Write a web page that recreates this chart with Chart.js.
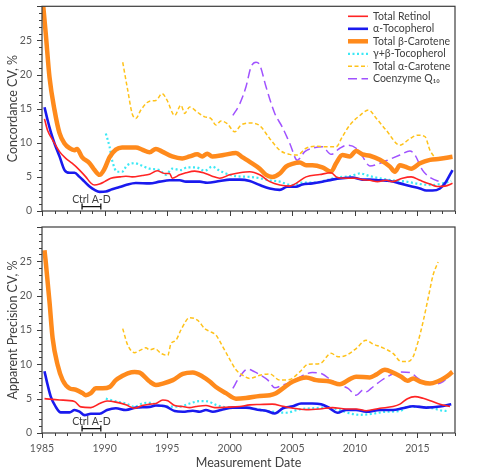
<!DOCTYPE html>
<html>
<head>
<meta charset="utf-8">
<script src="https://cdn.jsdelivr.net/npm/chart.js@4.4.1/dist/chart.umd.min.js"></script>
<style>
  html, body { margin: 0; padding: 0; background: #fff; }
  #wrap { position: relative; width: 480px; height: 473px; }
  #wrap canvas { position: absolute; left: 0; }
</style>
</head>
<body>
<div id="wrap">
  <canvas id="conc" width="480" height="218" style="top:0"></canvas>
  <canvas id="prec" width="480" height="255" style="top:218px"></canvas>
</div>
<script>
// axis ticks
const yearTicks = [1985, 1990, 1995, 2000, 2005, 2010, 2015];
const cvTicks = [0, 5, 10, 15, 20, 25, 30];
const ctrlPeriod = [1988.2, 1989.7];
const ctrlLabel = 'Ctrl A-D';

const seriesNames = ['Total Retinol', 'α-Tocopherol', 'Total β-Carotene',
    'γ+β-Tocopherol', 'Total α-Carotene', 'Coenzyme Q₁₀'];

// concordance CV, % : [year, value]
const concRetinol = [[1985.2,13.5],[1985.45,11.8],[1985.85,10.4],[1986.4,8.7],[1986.9,7.7],[1987.4,7.0],[1988.0,6.0],[1988.5,5.0],[1988.9,4.1],[1989.2,3.8],[1989.6,3.95],[1990.0,4.3],[1990.5,4.8],[1991.2,5.0],[1991.7,5.1],[1992.2,5.0],[1993.0,5.2],[1993.6,5.4],[1994.2,5.9],[1994.8,5.5],[1995.2,5.5],[1995.4,4.8],[1996.0,5.3],[1996.5,5.6],[1997.2,5.85],[1997.9,5.6],[1998.6,5.1],[1999.2,4.8],[2000.0,5.3],[2000.8,5.6],[2001.6,5.75],[2002.4,5.3],[2003.2,4.3],[2004.0,3.8],[2004.8,3.65],[2005.3,4.05],[2006.1,5.0],[2007.2,5.35],[2008.1,5.6],[2008.6,4.9],[2009.3,4.8],[2010.1,4.8],[2010.6,4.6],[2011.2,4.5],[2011.8,4.3],[2012.5,4.5],[2013.0,4.3],[2013.8,4.8],[2014.5,5.0],[2015.2,4.5],[2016.0,3.95],[2016.6,3.6],[2017.2,3.65],[2017.8,4.05]];
const concTocopherol = [[1985.2,15.2],[1985.45,13.3],[1985.7,11.6],[1986.0,9.9],[1986.4,8.0],[1986.8,6.0],[1987.2,5.6],[1987.6,5.6],[1988.0,5.0],[1988.4,4.3],[1988.8,3.6],[1989.2,3.1],[1989.6,2.8],[1990.1,2.85],[1990.6,3.2],[1991.2,3.5],[1991.7,3.8],[1992.5,4.1],[1993.6,4.05],[1994.4,4.3],[1995.2,4.5],[1996.0,4.5],[1996.5,4.3],[1997.0,4.3],[1997.6,4.3],[1998.2,4.15],[1999.2,4.4],[2000.0,4.6],[2000.8,4.6],[2001.6,4.4],[2002.4,3.8],[2003.2,3.3],[2004.0,3.1],[2004.6,3.55],[2005.3,3.55],[2005.8,3.9],[2006.6,4.05],[2007.4,4.3],[2008.2,4.6],[2009.0,4.8],[2009.8,4.9],[2010.6,4.6],[2011.2,4.6],[2012.0,4.5],[2012.8,4.4],[2013.6,4.05],[2014.4,3.65],[2015.2,3.3],[2015.7,3.0],[2016.2,3.0],[2016.8,3.3],[2017.2,4.05],[2017.8,6.0]];
const concBeta = [[1985.0,32],[1985.3,26.0],[1985.6,19.6],[1986.0,14.8],[1986.4,11.4],[1986.8,9.9],[1987.2,9.2],[1987.6,8.9],[1987.8,9.1],[1988.2,7.9],[1988.8,7.0],[1989.2,6.0],[1989.6,5.3],[1990.0,6.2],[1990.4,7.9],[1990.9,9.0],[1991.4,9.3],[1992.0,9.3],[1992.5,9.3],[1993.0,9.0],[1993.6,8.6],[1994.1,9.1],[1994.6,8.7],[1995.4,8.0],[1996.2,7.7],[1996.8,8.0],[1997.4,8.3],[1997.8,8.0],[1998.2,8.4],[1998.6,8.0],[1999.5,8.2],[2000.5,8.5],[2001.0,7.9],[2001.6,7.2],[2002.4,6.2],[2002.9,5.3],[2003.4,5.0],[2004.0,5.5],[2004.5,6.5],[2005.0,6.9],[2005.6,7.1],[2006.1,6.7],[2006.6,6.7],[2007.4,6.4],[2008.1,5.75],[2008.5,7.0],[2009.0,8.2],[2009.6,8.0],[2010.1,8.8],[2010.6,8.3],[2011.2,8.1],[2012.0,7.5],[2012.8,6.5],[2013.2,5.75],[2013.6,6.7],[2014.0,6.5],[2014.5,6.2],[2015.2,7.0],[2016.0,7.5],[2016.8,7.65],[2017.8,7.95]];
const concGammaBeta = [[1990.1,11.35],[1990.4,9.4],[1990.6,7.45],[1991.0,5.75],[1991.4,5.75],[1991.8,6.7],[1992.4,7.0],[1992.9,6.7],[1993.6,6.2],[1994.4,6.0],[1994.9,5.3],[1995.4,6.2],[1996.1,6.0],[1996.6,6.4],[1997.3,6.4],[1998.0,5.9],[1998.6,6.5],[1999.2,5.9],[1999.7,5.5],[2000.5,5.1],[2001.6,5.0],[2002.4,4.8],[2003.2,4.5],[2004.0,4.3],[2004.9,3.8],[2005.8,4.15],[2006.8,4.15],[2007.7,4.5],[2008.5,4.9],[2009.6,5.1],[2010.4,5.5],[2011.2,5.1],[2012.0,4.8],[2013.0,4.5],[2014.1,4.3],[2015.2,3.95],[2016.2,3.8],[2017.0,4.05],[2017.7,4.4]];
const concAlpha = [[1991.45,21.8],[1991.85,17.7],[1992.2,14.3],[1992.5,13.55],[1992.9,14.8],[1993.6,16.1],[1994.1,16.2],[1994.6,17.2],[1995.0,16.2],[1995.6,14.0],[1996.1,15.5],[1996.4,14.3],[1996.8,15.25],[1997.4,14.5],[1998.0,13.8],[1998.5,13.55],[1998.9,12.6],[1999.3,13.2],[1999.8,12.8],[2000.4,11.6],[2000.9,12.6],[2001.6,12.9],[2002.4,12.5],[2003.2,10.6],[2004.0,8.9],[2004.8,8.3],[2005.4,8.2],[2006.1,9.2],[2006.9,9.5],[2007.7,9.4],[2008.5,9.4],[2009.0,10.9],[2009.6,12.6],[2010.4,14.0],[2011.1,14.8],[2011.7,13.6],[2012.5,11.85],[2013.6,9.65],[2014.4,10.6],[2015.0,11.1],[2015.6,10.9],[2016.0,8.9],[2016.5,7.6]];
const concQ10 = [[2000.25,14.0],[2000.8,15.7],[2001.3,18.2],[2001.7,21.1],[2002.1,21.8],[2002.4,21.4],[2002.9,18.2],[2003.6,14.3],[2004.2,12.3],[2004.8,9.9],[2005.4,7.45],[2006.0,8.7],[2006.6,9.2],[2007.4,9.4],[2008.1,8.3],[2008.8,9.2],[2009.4,9.65],[2010.1,9.2],[2010.6,8.0],[2011.2,6.6],[2012.0,7.0],[2012.8,7.6],[2013.6,8.2],[2014.4,8.8],[2014.8,8.2],[2015.4,6.0],[2016.1,4.8],[2016.8,4.3],[2017.3,3.95]];

// apparent precision CV, % : [year, value]
const precRetinol = [[1985.2,5.0],[1986.4,4.8],[1987.6,4.6],[1988.1,3.8],[1988.9,3.7],[1989.6,4.3],[1990.2,4.65],[1990.9,4.5],[1991.7,4.1],[1992.4,3.6],[1993.0,4.0],[1993.6,4.2],[1994.1,4.3],[1994.65,4.8],[1995.05,4.7],[1995.6,4.0],[1996.25,3.85],[1996.8,3.7],[1997.3,3.85],[1998.1,4.0],[1998.8,3.7],[1999.7,3.75],[2000.8,3.85],[2001.6,4.1],[2002.4,4.15],[2003.4,4.2],[2004.25,3.9],[2005.05,3.6],[2006.1,3.4],[2007.2,3.5],[2008.2,3.7],[2009.3,3.5],[2010.1,3.5],[2010.9,3.25],[2012.0,3.6],[2013.05,3.85],[2013.6,4.2],[2014.2,5.0],[2014.8,5.3],[2015.45,5.05],[2016.1,4.65],[2016.8,4.2],[2017.6,3.85]];
const precTocopherol = [[1985.2,9.0],[1985.45,7.0],[1985.7,5.3],[1986.1,3.8],[1986.5,3.0],[1987.2,3.0],[1987.6,3.35],[1988.0,3.1],[1988.4,2.6],[1988.9,2.8],[1989.6,2.8],[1990.2,3.35],[1990.9,3.6],[1991.7,3.35],[1992.5,3.7],[1993.6,3.8],[1994.1,4.0],[1994.9,3.85],[1995.6,3.2],[1996.25,3.1],[1997.05,3.25],[1997.6,3.1],[1998.1,3.35],[1998.65,3.1],[1999.3,3.35],[2000.25,3.7],[2001.3,3.7],[2002.4,3.35],[2002.9,3.25],[2003.6,2.85],[2004.25,3.6],[2005.05,3.9],[2005.7,4.3],[2006.6,4.3],[2007.3,4.2],[2008.0,3.6],[2008.6,2.95],[2009.3,3.35],[2010.1,3.35],[2010.9,3.1],[2012.0,3.35],[2013.05,3.35],[2013.8,3.6],[2014.65,3.9],[2015.7,3.7],[2016.8,3.85],[2017.7,4.2]];
const precBeta = [[1985.2,26.6],[1985.3,24.9],[1985.6,19.1],[1985.85,13.8],[1986.25,9.9],[1986.65,7.7],[1987.2,6.5],[1987.7,6.3],[1988.25,5.8],[1988.5,5.5],[1988.9,5.8],[1989.3,6.5],[1989.85,6.5],[1990.4,6.7],[1990.9,7.7],[1991.4,8.3],[1991.85,8.7],[1992.4,8.9],[1992.8,8.8],[1993.6,7.5],[1994.1,7.0],[1994.65,7.2],[1995.45,7.7],[1996.25,8.6],[1997.05,8.8],[1997.85,8.2],[1998.4,7.5],[1998.9,6.7],[1999.7,5.8],[2000.5,5.0],[2001.3,5.1],[2002.4,5.4],[2003.2,5.5],[2003.7,5.8],[2004.25,6.5],[2005.05,7.5],[2006.1,8.1],[2006.9,7.7],[2008.0,7.5],[2008.8,7.1],[2009.6,7.85],[2010.1,8.2],[2011.2,8.1],[2011.7,8.5],[2012.4,9.2],[2013.05,8.8],[2013.7,8.2],[2014.2,7.6],[2014.65,7.95],[2015.2,7.5],[2016.0,7.2],[2016.6,7.5],[2017.2,8.05],[2017.8,8.9]];
const precGammaBeta = [[1990.1,5.0],[1990.9,4.6],[1991.7,4.3],[1992.4,3.8],[1993.0,4.3],[1993.6,4.4],[1994.4,4.0],[1995.2,3.85],[1996.0,3.85],[1996.8,4.3],[1997.6,4.65],[1998.25,4.6],[1998.9,4.1],[1999.7,3.75],[2000.8,3.7],[2001.85,3.6],[2002.4,3.4],[2003.4,3.1],[2004.5,2.95],[2005.6,3.45],[2006.6,3.6],[2007.7,3.7],[2008.8,3.35],[2009.6,2.85],[2010.4,2.65],[2011.4,2.8],[2012.5,3.1],[2013.6,3.2],[2014.2,3.8],[2015.2,3.8],[2016.2,3.6],[2017.0,3.25],[2017.4,3.2]];
const precAlpha = [[1991.45,15.2],[1991.85,12.8],[1992.4,11.7],[1992.9,12.1],[1993.3,12.4],[1993.6,12.1],[1994.0,12.3],[1994.5,11.6],[1995.05,11.3],[1995.3,13.0],[1995.7,13.5],[1996.1,15.0],[1996.8,16.8],[1997.45,16.4],[1998.0,15.2],[1998.4,14.8],[1998.9,14.25],[1999.45,12.55],[1999.95,10.9],[2000.5,9.2],[2001.05,8.4],[2001.6,7.95],[2002.1,8.2],[2002.4,8.4],[2003.2,8.6],[2004.0,7.7],[2004.8,7.8],[2005.6,8.9],[2006.25,10.0],[2007.2,10.1],[2008.1,11.6],[2008.65,11.1],[2009.3,11.3],[2010.1,12.3],[2010.9,13.5],[2011.4,13.0],[2012.25,12.4],[2013.05,11.6],[2013.7,10.4],[2014.25,10.4],[2014.65,11.1],[2015.05,13.3],[2015.45,16.2],[2015.85,19.6],[2016.25,23.0],[2016.65,24.9]];
const precQ10 = [[2000.25,6.5],[2000.8,8.2],[2001.45,9.3],[2002.0,8.9],[2002.4,8.5],[2003.05,7.7],[2003.6,6.6],[2004.25,7.0],[2005.05,7.5],[2005.85,8.4],[2006.6,8.8],[2007.4,8.6],[2008.1,7.7],[2008.8,7.0],[2009.45,6.5],[2010.1,5.5],[2010.65,6.25],[2010.9,6.0],[2011.3,6.5],[2012.0,7.5],[2012.8,8.4],[2013.6,8.9],[2014.4,8.8],[2015.05,7.95],[2015.7,7.2],[2016.4,7.1],[2017.05,7.5],[2017.6,8.4]];

const lineStyles = [
    { borderColor: '#ff2424', borderWidth: 1.6 },
    { borderColor: '#1a1aee', borderWidth: 2.6 },
    { borderColor: '#ff8a1c', borderWidth: 4.5 },
    { borderColor: '#3ce8f5', borderWidth: 2.2, borderDash: [2, 2.5] },
    { borderColor: '#ffc21a', borderWidth: 1.5, borderDash: [4, 2.5] },
    { borderColor: '#a052ff', borderWidth: 1.5, borderDash: [9, 4.5] }
];

const FONT = 'Lato, "Liberation Sans", sans-serif';

function buildDatasets(list) {
    return list.map((pts, i) => Object.assign({
        label: seriesNames[i],
        data: pts.map(p => ({ x: p[0], y: p[1] })),
        pointRadius: 0,
        fill: false,
        cubicInterpolationMode: 'monotone'
    }, lineStyles[i]));
}

// frame + major/minor tick marks + control bracket
const framePlugin = {
    id: 'frame',
    afterDatasetsDraw(chart) {
        const { ctx, chartArea: a, scales: { x, y } } = chart;
        ctx.save();
        ctx.strokeStyle = '#3c3c3c';
        ctx.lineWidth = 1.2;
        ctx.strokeRect(a.left, a.top, a.right - a.left, a.bottom - a.top);
        ctx.lineWidth = 1;
        ctx.beginPath();
        for (let yr = x.min; yr <= x.max; yr++) {
            const px = Math.round(x.getPixelForValue(yr)) + 0.5;
            const len = yearTicks.includes(yr) ? 5 : 3;
            ctx.moveTo(px, a.bottom);
            ctx.lineTo(px, a.bottom + len);
        }
        for (let v = y.min; v <= y.max; v++) {
            const py = Math.round(y.getPixelForValue(v)) + 0.5;
            const len = cvTicks.includes(v) ? 5 : 3;
            ctx.moveTo(a.left - len, py);
            ctx.lineTo(a.left, py);
        }
        ctx.stroke();

        const x0 = x.getPixelForValue(ctrlPeriod[0]);
        const x1 = x.getPixelForValue(ctrlPeriod[1]);
        const yb = y.getPixelForValue(0.65);
        ctx.strokeStyle = '#111';
        ctx.lineWidth = 1.3;
        ctx.beginPath();
        ctx.moveTo(x0, yb); ctx.lineTo(x1, yb);
        ctx.moveTo(x0, yb - 3); ctx.lineTo(x0, yb + 3);
        ctx.moveTo(x1, yb - 3); ctx.lineTo(x1, yb + 3);
        ctx.stroke();
        ctx.fillStyle = '#404040';
        ctx.font = '10.5px ' + FONT;
        ctx.textAlign = 'center';
        ctx.textBaseline = 'bottom';
        ctx.fillText(ctrlLabel, (x0 + x1) / 2, yb - 2);
        ctx.restore();
    }
};

const legendPlugin = {
    id: 'lineLegend',
    afterDraw(chart) {
        const { ctx, chartArea: a } = chart;
        const x0 = a.right - 107;
        ctx.save();
        ctx.font = '10.5px ' + FONT;
        ctx.textBaseline = 'middle';
        ctx.fillStyle = '#404040';
        chart.data.datasets.forEach((ds, i) => {
            const yy = a.top + 10 + i * 12.5;
            ctx.strokeStyle = ds.borderColor;
            ctx.lineWidth = ds.borderWidth;
            ctx.setLineDash(ds.borderDash || []);
            ctx.beginPath();
            ctx.moveTo(x0, yy);
            ctx.lineTo(x0 + 20, yy);
            ctx.stroke();
            ctx.fillText(ds.label, x0 + 25, yy);
        });
        ctx.restore();
    }
};

function makeOptions(yTitle, bottomAxis) {
    return {
        responsive: false,
        animation: false,
        layout: { padding: { top: bottomAxis ? 9 : 6, right: 25, left: 0, bottom: 0 } },
        plugins: { legend: { display: false }, tooltip: { enabled: false } },
        scales: {
            x: {
                type: 'linear',
                min: 1985,
                max: 2018,
                afterBuildTicks: s => { s.ticks = yearTicks.map(v => ({ value: v })); },
                afterFit: s => { s.height = bottomAxis ? 40 : 7; },
                grid: { display: false, drawTicks: true, tickLength: 9 },
                border: { display: false },
                ticks: {
                    display: bottomAxis,
                    autoSkip: false,
                    maxRotation: 0,
                    padding: 0,
                    color: '#595959',
                    font: { family: FONT, size: 10.5 },
                    callback: v => String(v)
                },
                title: {
                    display: bottomAxis,
                    text: 'Measurement Date',
                    color: '#404040',
                    font: { family: FONT, size: 12.5 },
                    padding: { top: 0, bottom: 3 }
                }
            },
            y: {
                min: 0,
                max: 30,
                afterBuildTicks: s => { s.ticks = cvTicks.map(v => ({ value: v })); },
                afterFit: s => { s.width = 42; },
                grid: { display: false, drawTicks: true, tickLength: 10 },
                border: { display: false },
                ticks: {
                    padding: 0,
                    color: '#595959',
                    font: { family: FONT, size: 10.5 },
                    callback: v => (v === 30 ? '' : String(v))
                },
                title: {
                    display: true,
                    text: yTitle,
                    color: '#404040',
                    font: { family: FONT, size: 12.5 },
                    padding: { top: 5, bottom: 0 }
                }
            }
        }
    };
}

new Chart(document.getElementById('conc'), {
    type: 'line',
    data: { datasets: buildDatasets([concRetinol, concTocopherol, concBeta, concGammaBeta, concAlpha, concQ10]) },
    options: makeOptions('Concordance CV, %', false),
    plugins: [framePlugin, legendPlugin]
});

new Chart(document.getElementById('prec'), {
    type: 'line',
    data: { datasets: buildDatasets([precRetinol, precTocopherol, precBeta, precGammaBeta, precAlpha, precQ10]) },
    options: makeOptions('Apparent Precision CV, %', true),
    plugins: [framePlugin]
});
</script>
</body>
</html>
